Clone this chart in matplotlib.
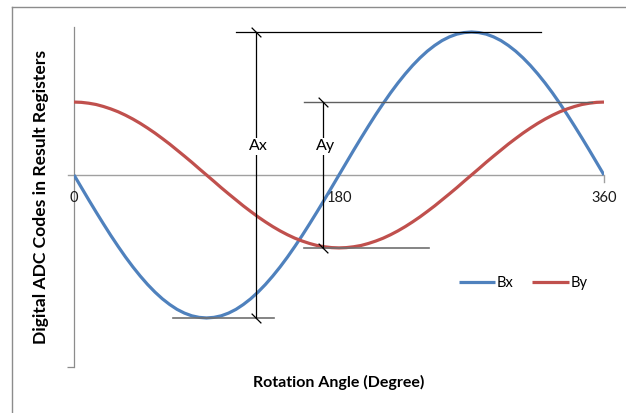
import matplotlib
matplotlib.use("Agg")
import matplotlib.pyplot as plt
from matplotlib.path import Path
from matplotlib.lines import Line2D

plt.rcParams['font.family'] = ['Lato', 'DejaVu Sans']

# ---- data ----
angles = [0, 5, 10, 15, 20, 25, 30, 35, 40, 45, 50, 55, 60, 65, 70, 75, 80, 85,
          90, 95, 100, 105, 110, 115, 120, 125, 130, 135, 140, 145, 150, 155, 160, 165, 170, 175,
          180, 185, 190, 195, 200, 205, 210, 215, 220, 225, 230, 235, 240, 245, 250, 255, 260, 265,
          270, 275, 280, 285, 290, 295, 300, 305, 310, 315, 320, 325, 330, 335, 340, 345, 350, 355,
          360]
bx = [0, -0.087, -0.174, -0.259, -0.342, -0.423, -0.500, -0.574, -0.643, -0.707, -0.766, -0.819,
      -0.866, -0.906, -0.940, -0.966, -0.985, -0.996,
      -1.000, -0.996, -0.985, -0.966, -0.940, -0.906, -0.866, -0.819, -0.766, -0.707, -0.643, -0.574,
      -0.500, -0.423, -0.342, -0.259, -0.174, -0.087,
      0, 0.087, 0.174, 0.259, 0.342, 0.423, 0.500, 0.574, 0.643, 0.707, 0.766, 0.819,
      0.866, 0.906, 0.940, 0.966, 0.985, 0.996,
      1.000, 0.996, 0.985, 0.966, 0.940, 0.906, 0.866, 0.819, 0.766, 0.707, 0.643, 0.574,
      0.500, 0.423, 0.342, 0.259, 0.174, 0.087,
      0]
by = [0.510, 0.508, 0.502, 0.493, 0.479, 0.462, 0.442, 0.418, 0.391, 0.361, 0.328, 0.293,
      0.255, 0.216, 0.174, 0.132, 0.089, 0.044,
      0, -0.044, -0.089, -0.132, -0.174, -0.216, -0.255, -0.293, -0.328, -0.361, -0.391, -0.418,
      -0.442, -0.462, -0.479, -0.493, -0.502, -0.508,
      -0.510, -0.508, -0.502, -0.493, -0.479, -0.462, -0.442, -0.418, -0.391, -0.361, -0.328, -0.293,
      -0.255, -0.216, -0.174, -0.132, -0.089, -0.044,
      0, 0.044, 0.089, 0.132, 0.174, 0.216, 0.255, 0.293, 0.328, 0.361, 0.391, 0.418,
      0.442, 0.462, 0.479, 0.493, 0.502, 0.508,
      0.510]
series_names = ["Bx", "By"]
x_ticks = [0, 180, 360]
x_tick_labels = ["0", "180", "360"]
x_title = "Rotation Angle (Degree)"
y_title = "Digital ADC Codes in Result Registers"

# annotation geometry (data units)
ax_top = (1.00, 110, 317)
ax_bot = (-1.00, 67, 136)
ax_vert_x = 123.5
ay_top = (0.51, 156, 352)
ay_bot = (-0.51, 156, 241)
ay_vert_x = 169
label_y = 0.20

blue = "#4F81BD"
red = "#C0504D"

fig = plt.figure(figsize=(6.26, 4.13), dpi=100)
ax = fig.add_axes([74/626, 46/413, 530/626, 340/413])
ax.set_xlim(0, 360)
ax.set_ylim(-1.343, 1.035)

for s in ["top", "right", "bottom"]:
    ax.spines[s].set_visible(False)
ax.spines["left"].set_color("#8c8c8c")
ax.spines["left"].set_linewidth(0.9)

# zero axis line with ticks
ax.axhline(0, color="#a0a0a0", lw=1.0, zorder=1)
ax.plot([-6/530*360, 0], [0, 0], color="#a0a0a0", lw=1.0, clip_on=False, zorder=1)
ax.set_xticks([])
ax.set_yticks([-1.343])
ax.set_yticklabels([])
ax.tick_params(axis="y", length=5, color="#8c8c8c", width=0.9, direction="out")
ax.plot([360, 360], [0, -7/143], color="#a0a0a0", lw=1.0, clip_on=False)
for t, lab in zip(x_ticks, x_tick_labels):
    ax.text(t, -0.16, lab, ha="center", va="center", fontsize=10.5, color="#1a1a1a")

# series
ax.plot(angles, bx, color=blue, lw=2.3, solid_capstyle="butt", solid_joinstyle="round",
        zorder=3, label=series_names[0])
ax.plot(angles, by, color=red, lw=2.3, solid_capstyle="butt", solid_joinstyle="round",
        zorder=3, label=series_names[1])

# annotation lines
ax.plot([ax_top[1], ax_top[2]], [ax_top[0]] * 2, color="black", lw=0.9, zorder=4)
ax.plot([ax_bot[1], ax_bot[2]], [ax_bot[0]] * 2, color="#707070", lw=1.2, zorder=4)
ax.plot([ay_top[1], ay_top[2]], [ay_top[0]] * 2, color="#606060", lw=1.0, zorder=4)
ax.plot([ay_bot[1], ay_bot[2]], [ay_bot[0]] * 2, color="#707070", lw=1.2, zorder=4)

slash = Path([(-1, 1), (1, -1)], [Path.MOVETO, Path.LINETO])
ax.plot([ax_vert_x, ax_vert_x], [ax_bot[0], ax_top[0]], color="black", lw=0.9, zorder=4)
ax.plot([ay_vert_x, ay_vert_x], [ay_bot[0], ay_top[0]], color="black", lw=0.9, zorder=4)
ax.plot([ax_vert_x, ax_vert_x, ay_vert_x, ay_vert_x],
        [ax_bot[0], ax_top[0], ay_bot[0], ay_top[0]], linestyle="none",
        marker=slash, markersize=7, markeredgewidth=0.9, markeredgecolor="black", zorder=5)

ax.text(ax_vert_x + 2, label_y, "Ax", ha="center", va="center", fontsize=11.5,
        bbox=dict(facecolor="white", edgecolor="none", pad=1.0), zorder=6)
ax.text(ay_vert_x + 2, label_y, "Ay", ha="center", va="center", fontsize=11.5,
        bbox=dict(facecolor="white", edgecolor="none", pad=1.0), zorder=6)

# legend
leg = ax.legend(loc="center", bbox_to_anchor=(523/626, (413-283)/413), bbox_transform=fig.transFigure,
                ncol=2, frameon=False, fontsize=10.5, handlelength=2.5, handletextpad=0.1,
                columnspacing=1.3, borderpad=0)

# axis titles
fig.text(339/626, 1 - 382/413, x_title, ha="center", va="center", fontsize=11.5, fontweight="bold")
fig.text(41/626, 1 - 197/413, y_title, ha="center", va="center", rotation=90, fontsize=12.6, fontweight="bold")

# outer frame (partial, cropped)
fig.add_artist(Line2D([12/626, 12/626], [0, 1 - 7/413], transform=fig.transFigure, color="#8c8c8c", lw=1.0))
fig.add_artist(Line2D([12/626, 1], [1 - 7/413, 1 - 7/413], transform=fig.transFigure, color="#8c8c8c", lw=1.0))

fig.savefig("out.png", dpi=100)
